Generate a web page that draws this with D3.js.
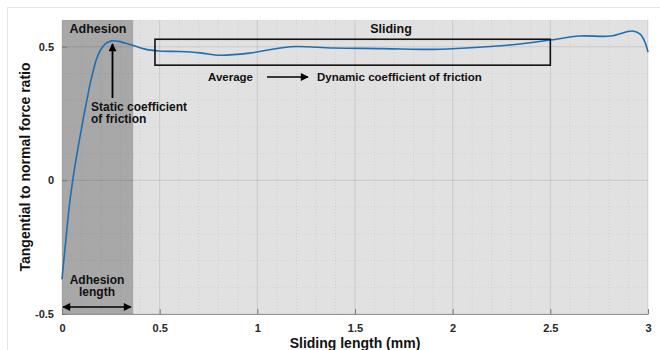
<!DOCTYPE html>
<html><head><meta charset="utf-8">
<script src="https://cdn.jsdelivr.net/npm/d3@7"></script>
<style>body{margin:0;background:#fff}svg{display:block}text{font-family:"Liberation Sans",Arial,sans-serif;font-weight:bold}</style>
</head><body>
<svg id="c" width="660" height="350"></svg>
<script>
const slidingX = [0, 0.02, 0.04, 0.055, 0.07, 0.085, 0.1, 0.115, 0.13, 0.145, 0.16, 0.175, 0.195, 0.22, 0.254, 0.29, 0.32, 0.374, 0.42, 0.5, 0.6, 0.707, 0.81, 0.96, 1.17, 1.39, 1.645, 1.9, 2.07, 2.33, 2.5, 2.65, 2.81, 2.92, 2.96, 2.985, 3.0];
const forceRatio = [-0.37, -0.22, -0.08, 0.0, 0.07, 0.135, 0.195, 0.255, 0.31, 0.365, 0.41, 0.45, 0.485, 0.51, 0.522, 0.52, 0.514, 0.503, 0.492, 0.484, 0.482, 0.477, 0.468, 0.476, 0.50, 0.495, 0.493, 0.49, 0.495, 0.509, 0.525, 0.54, 0.54, 0.559, 0.547, 0.516, 0.48];
const xTicks = [0, 0.5, 1, 1.5, 2, 2.5, 3];
const xTickLabels = ["0", "0.5", "1", "1.5", "2", "2.5", "3"];
const yTicks = [-0.5, 0, 0.5];
const yTickLabels = ["-0.5", "0", "0.5"];
const adhesionEnd = 0.365;
const avgBox = {x0: 0.476, x1: 2.5, y0: 0.431, y1: 0.528};

const svg = d3.select("#c");
const m = {l: 62, r: 648, t: 20, b: 314};
const x = d3.scaleLinear().domain([0, 3]).range([m.l, m.r]);
const y = d3.scaleLinear().domain([-0.5, 0.6]).range([m.b, m.t]);

svg.append("rect").attr("x", 7.5).attr("y", 7.5).attr("width", 660).attr("height", 350).attr("fill", "none").attr("stroke", "#e6e6e6");

// backgrounds
svg.append("rect").attr("x", x(adhesionEnd)).attr("y", m.t).attr("width", x(3) - x(adhesionEnd)).attr("height", m.b - m.t).attr("fill", "#e1e1e1");
svg.append("rect").attr("x", x(0)).attr("y", m.t).attr("width", x(adhesionEnd) - x(0)).attr("height", m.b - m.t).attr("fill", "#a8a8a8");

// grid
const g = svg.append("g");
const minorX = d3.range(0, 3.0001, 0.1).filter(v => Math.abs(v*2 - Math.round(v*2)) > 1e-6);
const minorY = d3.range(-0.5, 0.6001, 0.1).filter(v => Math.abs(v*2 - Math.round(v*2)) > 1e-6);
g.selectAll(".mx").data(minorX).enter().append("line").attr("x1", d => x(d)).attr("x2", d => x(d)).attr("y1", m.t).attr("y2", m.b).attr("stroke", "#000").attr("stroke-opacity", 0.07).attr("stroke-dasharray", "1,2");
g.selectAll(".my").data(minorY).enter().append("line").attr("y1", d => y(d)).attr("y2", d => y(d)).attr("x1", m.l).attr("x2", m.r).attr("stroke", "#000").attr("stroke-opacity", 0.07).attr("stroke-dasharray", "1,2");
g.selectAll(".Mx").data(xTicks).enter().append("line").attr("x1", d => x(d)).attr("x2", d => x(d)).attr("y1", m.t).attr("y2", m.b).attr("stroke", "#000").attr("stroke-opacity", 0.1);
g.selectAll(".My").data(yTicks).enter().append("line").attr("y1", d => y(d)).attr("y2", d => y(d)).attr("x1", m.l).attr("x2", m.r).attr("stroke", "#000").attr("stroke-opacity", 0.1);

// axes
const xAxis = d3.axisBottom(x).tickValues(xTicks).tickFormat((d, i) => xTickLabels[i]).tickSizeInner(-5).tickSizeOuter(0).tickPadding(10);
const yAxis = d3.axisLeft(y).tickValues(yTicks).tickFormat((d, i) => yTickLabels[i]).tickSizeInner(-5).tickSizeOuter(0).tickPadding(8);
const xa = svg.append("g").attr("transform", `translate(0,${m.b})`).call(xAxis);
const ya = svg.append("g").attr("transform", `translate(${m.l},0)`).call(yAxis);
[xa, ya].forEach(a => {
  a.select(".domain").attr("stroke", "#7a7a7a").attr("stroke-width", 0.8);
  a.selectAll(".tick line").attr("stroke", "#7a7a7a");
  a.selectAll(".tick text").attr("fill", "#262626").style("font-size", "11px").style("font-weight", "bold");
});
ya.select(".domain").remove();

// curve
const pts = slidingX.map((d, i) => [d, forceRatio[i]]);
svg.append("path").datum(pts).attr("fill", "none").attr("stroke", "#1f6fb0").attr("stroke-width", 1.6)
  .attr("d", d3.line().x(d => x(d[0])).y(d => y(d[1])).curve(d3.curveCatmullRom.alpha(0.5)));

// average box
svg.append("rect").attr("x", x(avgBox.x0)).attr("y", y(avgBox.y1)).attr("width", x(avgBox.x1) - x(avgBox.x0)).attr("height", y(avgBox.y0) - y(avgBox.y1))
  .attr("fill", "none").attr("stroke", "#111").attr("stroke-width", 1.6);

// arrow markers
const defs = svg.append("defs");
defs.append("marker").attr("id", "ah").attr("viewBox", "0 0 10 10").attr("refX", 9).attr("refY", 5).attr("markerWidth", 10).attr("markerHeight", 8).attr("markerUnits", "userSpaceOnUse").attr("orient", "auto-start-reverse")
  .append("path").attr("d", "M0,0 L10,5 L0,10 Z").attr("fill", "#000");

function txt(t, px, py, size, anchor) {
  svg.append("text").attr("x", px).attr("y", py).attr("text-anchor", anchor || "start").attr("fill", "#111").style("font-size", size + "px").text(t);
}
txt("Adhesion", 98, 33, 12.5, "middle");
txt("Sliding", 391, 33, 12.5, "middle");
// static arrow
svg.append("line").attr("x1", 112.5).attr("x2", 112.5).attr("y1", 98).attr("y2", 44).attr("stroke", "#000").attr("stroke-width", 1.8).attr("marker-end", "url(#ah)");
txt("Static coefficient", 91, 111, 12);
txt("of friction", 91, 123, 12);
txt("Average", 208, 81, 11.5);
svg.append("line").attr("x1", 267).attr("x2", 308).attr("y1", 77).attr("y2", 77).attr("stroke", "#000").attr("stroke-width", 1.6).attr("marker-end", "url(#ah)");
txt("Dynamic coefficient of friction", 317, 81, 11.5);
txt("Adhesion", 97, 284, 12, "middle");
txt("length", 97, 296, 12, "middle");
svg.append("line").attr("x1", 63).attr("x2", 131).attr("y1", 307).attr("y2", 307).attr("stroke", "#000").attr("stroke-width", 1.6).attr("marker-start", "url(#ah)").attr("marker-end", "url(#ah)");

// axis titles
svg.append("text").attr("x", 355).attr("y", 348).attr("text-anchor", "middle").attr("fill", "#111").style("font-size", "14px").text("Sliding length (mm)");
svg.append("text").attr("transform", `translate(30,${(m.t + m.b) / 2}) rotate(-90)`).attr("text-anchor", "middle").attr("fill", "#111").style("font-size", "14px").text("Tangential to normal force ratio");
</script>
</body></html>
